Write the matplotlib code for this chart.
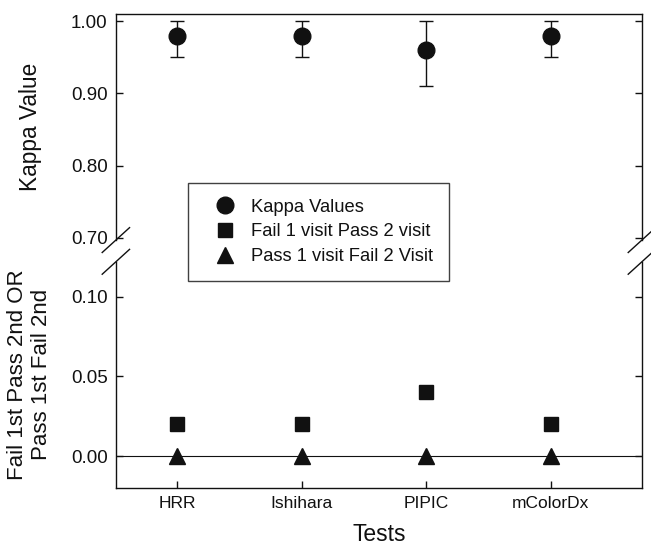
import matplotlib
matplotlib.use("Agg")
import matplotlib.pyplot as plt
from matplotlib.lines import Line2D

plt.rcParams['font.family'] = ['Liberation Sans', 'DejaVu Sans']

tests = ["HRR", "Ishihara", "PIPIC", "mColorDx"]
kappa = [0.98, 0.98, 0.96, 0.98]
kappa_low = [0.95, 0.95, 0.91, 0.95]
kappa_high = [1.00, 1.00, 1.00, 1.00]
fail_pass = [0.02, 0.02, 0.04, 0.02]
pass_fail = [0.0, 0.0, 0.0, 0.0]

ink = "#111111"
xpos = list(range(1, len(tests) + 1))

fig = plt.figure(figsize=(6.51, 5.57), dpi=100)
ax_top = fig.add_axes([0.178, 0.569, 0.808, 0.406])
ax_bot = fig.add_axes([0.178, 0.124, 0.808, 0.406])

# top panel: kappa values with asymmetric error bars
err = [[k - lo for k, lo in zip(kappa, kappa_low)],
       [hi - k for k, hi in zip(kappa, kappa_high)]]
ax_top.errorbar(xpos, kappa, yerr=err, fmt='o', color=ink, ms=12,
                ecolor=ink, elinewidth=1.0, capsize=5, capthick=1.0)
ax_top.set_ylim(0.697, 1.01)
ax_top.set_yticks([0.70, 0.80, 0.90, 1.00])
ax_top.set_yticklabels(["0.70", "0.80", "0.90", "1.00"])
ax_top.set_ylabel("Kappa Value", fontsize=16.3, color=ink)
ax_top.yaxis.set_label_coords(-0.141, 0.5)

# bottom panel
ax_bot.axhline(0, color=ink, lw=0.8, zorder=1)
ax_bot.plot(xpos, fail_pass, 's', color=ink, ms=10, zorder=3)
ax_bot.plot(xpos, pass_fail, '^', color=ink, ms=12, zorder=3)
ax_bot.set_ylim(-0.020, 0.122)
ax_bot.set_yticks([0.00, 0.05, 0.10])
ax_bot.set_yticklabels(["0.00", "0.05", "0.10"])
ax_bot.set_ylabel("Fail 1st Pass 2nd OR\nPass 1st Fail 2nd", fontsize=16,
                  color=ink, linespacing=1.15)
ax_bot.yaxis.set_label_coords(-0.122, 0.5)
ax_bot.set_xticks(xpos)
ax_bot.set_xticklabels(tests)
ax_bot.set_xlabel("Tests", fontsize=16.5, color=ink)
ax_bot.xaxis.set_label_coords(0.5, -0.155)

for ax in (ax_top, ax_bot):
    ax.set_xlim(0.51, 4.73)
    for s in ax.spines.values():
        s.set_color(ink)
        s.set_linewidth(1.0)
    ax.tick_params(axis='y', direction='in', right=True, length=5,
                   width=1.0, color=ink, labelsize=13.5, labelcolor=ink, pad=6)
    ax.tick_params(axis='x', direction='in', length=5, width=1.0,
                   color=ink, labelsize=12.5, labelcolor=ink, pad=6)

ax_top.spines['bottom'].set_visible(False)
ax_top.tick_params(axis='x', bottom=False, labelbottom=False)
ax_bot.spines['top'].set_visible(False)

# break marks on both spines
dx, dy = 0.026, 0.055
for ax, yb in ((ax_top, 0.0), (ax_bot, 1.0)):
    for xb in (0.0, 1.0):
        ax.plot([xb - dx, xb + dx], [yb - dy, yb + dy], color=ink, lw=1.0,
                transform=ax.transAxes, clip_on=False)

handles = [
    Line2D([], [], ls='none', marker='o', color=ink, ms=12),
    Line2D([], [], ls='none', marker='s', color=ink, ms=10),
    Line2D([], [], ls='none', marker='^', color=ink, ms=12),
]
labels = ["Kappa Values", "Fail 1 visit Pass 2 visit", "Pass 1 visit Fail 2 Visit"]
leg = fig.legend(handles, labels, loc='upper left',
                 bbox_to_anchor=(188 / 651, 1 - 183 / 557),
                 fontsize=13.2, frameon=True, fancybox=False,
                 borderpad=0.85, handletextpad=0.3, labelspacing=0.42,
                 borderaxespad=0, handlelength=2.3)
leg.get_frame().set_edgecolor(ink)
leg.get_frame().set_linewidth(1.0)
for t in leg.get_texts():
    t.set_color(ink)

fig.savefig("out.png", dpi=100)
